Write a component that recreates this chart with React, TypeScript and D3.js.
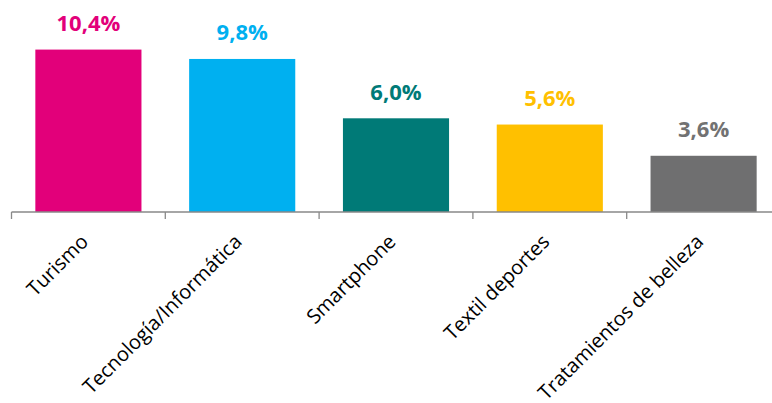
import { useMemo } from "react";
import * as d3 from "d3";

// Category bars, values in percent.
const CATEGORIES = [
  "Turismo",
  "Tecnología/Informática",
  "Smartphone",
  "Textil deportes",
  "Tratamientos de belleza",
];
const VALUES = [10.4, 9.8, 6.0, 5.6, 3.6];
const VALUE_LABELS = ["10,4%", "9,8%", "6,0%", "5,6%", "3,6%"];
const BAR_COLORS = ["#E2007A", "#00B0F0", "#007A77", "#FFC000", "#6F6F70"];
const LABEL_COLORS = ["#E2007A", "#00B0F0", "#007A77", "#FFC000", "#727272"];

const W = 772;
const H = 403;
const FONT = "'Open Sans', 'DejaVu Sans', sans-serif";

export default function App() {
  const { x, y, ticks } = useMemo(() => {
    const x = d3
      .scaleBand<string>()
      .domain(CATEGORIES)
      .range([11.5, 780.5])
      .paddingInner(0.31)
      .paddingOuter(0.155);
    const y = d3.scaleLinear().domain([0, 12]).range([212, 24.6]);
    // boundaries between categories (Excel-style tick marks)
    const step = x.step();
    const ticks = d3.range(CATEGORIES.length + 1).map((i) => 11.5 + i * step);
    return { x, y, ticks };
  }, []);

  const y0 = y(0);
  const axisColor = "#898989";

  return (
    <svg
      width={W}
      height={H}
      viewBox={`0 0 ${W} ${H}`}
      style={{ position: "absolute", left: 0, top: 0, background: "#fff" }}
    >
      {/* bars */}
      {CATEGORIES.map((c, i) => (
        <rect
          key={c}
          x={x(c)}
          y={y(VALUES[i])}
          width={x.bandwidth()}
          height={y0 - y(VALUES[i])}
          fill={BAR_COLORS[i]}
        />
      ))}

      {/* value labels */}
      {CATEGORIES.map((c, i) => (
        <text
          key={c}
          x={(x(c) ?? 0) + x.bandwidth() / 2}
          y={y(VALUES[i]) - 18.5}
          textAnchor="middle"
          fontFamily={FONT}
          fontWeight={700}
          fontSize={22}
          fill={LABEL_COLORS[i]}
        >
          {VALUE_LABELS[i]}
        </text>
      ))}

      {/* category axis */}
      <line x1={ticks[0]} x2={ticks[ticks.length - 1]} y1={y0} y2={y0} stroke={axisColor} strokeWidth={1.5} />
      {ticks.map((t, i) => (
        <line key={i} x1={t} x2={t} y1={y0} y2={y0 + 7} stroke={axisColor} strokeWidth={1.3} />
      ))}

      {/* rotated category labels */}
      {CATEGORIES.map((c) => {
        const cx = (x(c) ?? 0) + x.bandwidth() / 2 + 1;
        const cy = y0 + 31;
        return (
          <text
            key={c}
            transform={`translate(${cx},${cy}) rotate(-45)`}
            textAnchor="end"
            fontFamily={FONT}
            fontSize={20}
            fill="#000"
          >
            {c}
          </text>
        );
      })}
    </svg>
  );
}
